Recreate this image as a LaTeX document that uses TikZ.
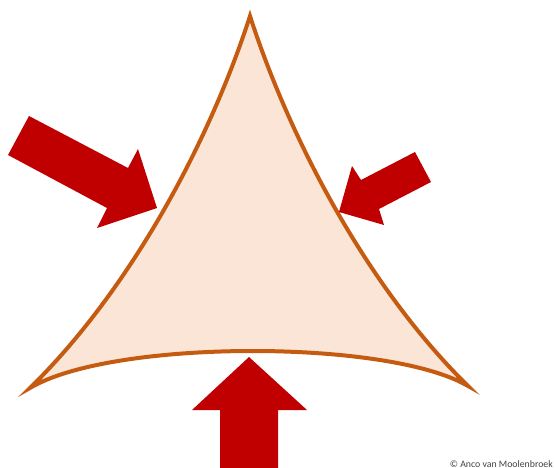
\documentclass[tikz,border=0pt]{standalone}
\usepackage{fontspec}
\newfontfamily\credfont{Carlito}
\definecolor{edge}{HTML}{C55A11}
\definecolor{peach}{HTML}{FBE5D6}
\definecolor{arrowred}{HTML}{C00000}
\definecolor{credgray}{HTML}{404040}
\tikzset{
  sail/.style={draw=edge, fill=peach, line width=4pt, line join=miter, miter limit=12},
  bigarrow/.style={fill=arrowred, draw=none},
  credit/.style={font=\credfont\fontsize{9.8}{10}\selectfont, text=credgray, inner sep=0pt}
}
\begin{document}
\begin{tikzpicture}[x=1pt,y=-1pt]
\useasboundingbox (0,0) rectangle (554,468);
% concave triangle
\draw[sail] (250,16) .. controls (210,140) and (132,288) .. (30,388)
  .. controls (112,339) and (388,339) .. (468,386)
  .. controls (368,288) and (290,140) .. cycle;
% left arrow
\fill[bigarrow] (29,116) -- (128,168) -- (138,149) -- (157,208) -- (97,228) -- (107,208) -- (8,155) -- cycle;
% right arrow
\fill[bigarrow] (415,152) -- (361,180) -- (352,166) -- (339,212) -- (384,225) -- (379,209) -- (431,182) -- cycle;
% bottom arrow
\fill[bigarrow] (249,357) -- (307,410) -- (278,410) -- (278,468) -- (220,468) -- (220,410) -- (192,410) -- cycle;
% credit
\node[credit, anchor=base east] (cr) at (553,467) {© Anco van Moolenbroek};
\end{tikzpicture}
\end{document}
